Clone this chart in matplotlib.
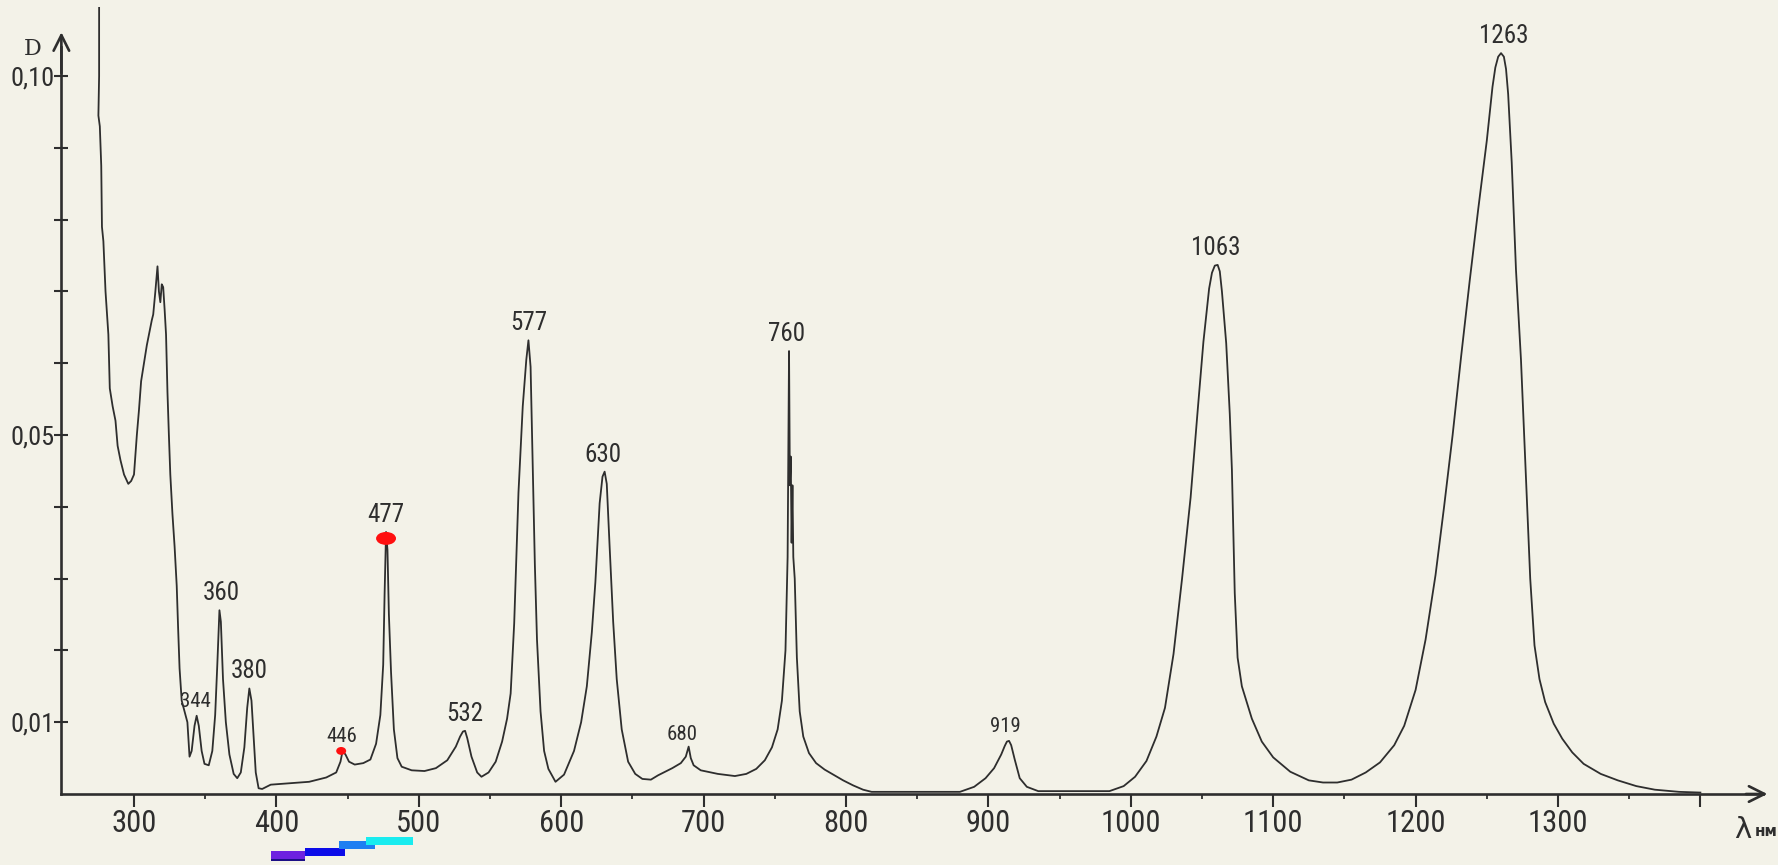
"""Absorption spectrum D(lambda), redrawn from a scanned hand-made chart."""
import numpy as np
import matplotlib
matplotlib.use("Agg")
import matplotlib.pyplot as plt
from matplotlib import font_manager as fm
from matplotlib.patches import Ellipse, Rectangle

# --- curve: wavelength (nm) and optical density D ---
wavelength_nm = [
    275.5, 275.5, 275.0, 276.0, 277.0, 277.5, 278.5, 280.0, 282.0, 283.0,
    285.0, 287.0, 288.5, 290.5, 293.0, 296.0, 298.0, 300.0, 302.0, 303.5,
    305.0, 307.0, 309.0, 311.0, 312.5, 313.5, 315.0, 316.5, 317.5, 318.5,
    319.5, 320.5, 321.5, 322.5, 323.5, 324.5, 325.5, 327.0, 328.5, 330.0,
    331.0, 332.0, 333.5, 335.5, 337.5, 339.0, 340.5, 342.5, 344.0, 345.5,
    347.5, 349.5, 352.5, 355.0, 357.0, 358.5, 360.0, 361.0, 362.5, 364.5,
    367.0, 370.0, 372.5, 375.0, 377.5, 379.5, 381.0, 382.5, 384.0, 385.5,
    387.5, 390.0, 396.0, 410.0, 423.0, 435.0, 442.0, 445.0, 446.5, 448.5,
    451.0, 455.0, 461.0, 466.0, 470.0, 473.0, 475.0, 476.0, 477.0, 478.0,
    479.0, 480.5, 482.5, 485.0, 488.0, 495.0, 504.0, 512.0, 520.0, 526.0,
    529.0, 531.0, 532.5, 534.0, 537.0, 541.0, 544.0, 549.0, 554.0, 558.5,
    562.0, 564.5, 567.0, 570.0, 573.0, 575.5, 577.0, 578.5, 580.0, 581.5,
    583.0, 585.5, 588.0, 591.0, 596.0, 602.0, 609.0, 614.0, 618.0, 621.5,
    624.0, 627.0, 629.0, 630.5, 632.0, 634.0, 636.5, 639.0, 642.5, 647.0,
    652.0, 657.0, 663.0, 668.0, 673.0, 678.0, 684.0, 687.5, 689.5, 691.0,
    693.0, 698.0, 710.0, 722.0, 730.0, 737.0, 743.0, 748.0, 752.0, 755.0,
    757.5, 759.0, 760.0, 760.6, 761.2, 761.8, 762.4, 763.0, 764.0, 765.5,
    767.5, 770.0, 774.0, 779.0, 785.0, 791.0, 798.0, 805.0, 812.0, 818.0,
    880.0, 890.0, 898.0, 904.0, 909.0, 911.5, 913.0, 914.5, 916.0, 918.5,
    922.0, 927.0, 935.0, 985.0, 995.0, 1003.0, 1011.0, 1018.0, 1024.0, 1030.0,
    1036.0, 1042.0, 1047.0, 1051.0, 1055.0, 1057.0, 1059.0, 1061.0, 1062.5, 1064.0,
    1067.0, 1069.5, 1071.0, 1073.0, 1075.0, 1078.0, 1085.0, 1092.0, 1100.0, 1112.0,
    1125.0, 1135.0, 1145.0, 1155.0, 1165.0, 1175.0, 1185.0, 1192.0, 1200.0, 1207.0,
    1214.0, 1220.0, 1226.0, 1232.0, 1238.0, 1244.0, 1250.0, 1254.0, 1256.0, 1258.0,
    1260.0, 1262.0, 1263.5, 1265.0, 1267.5, 1270.5, 1274.0, 1277.5, 1280.5, 1283.5,
    1287.0, 1291.0, 1297.0, 1303.0, 1310.0, 1318.0, 1330.0, 1342.0, 1355.0, 1368.0,
    1385.0, 1400.0,
]
density = [
    0.1095, 0.1000, 0.0945, 0.0930, 0.0875, 0.0790, 0.0770, 0.0700, 0.0640, 0.0565,
    0.0540, 0.0520, 0.0485, 0.0465, 0.0445, 0.0432, 0.0436, 0.0445, 0.0500, 0.0535,
    0.0575, 0.0600, 0.0625, 0.0645, 0.0660, 0.0668, 0.0700, 0.0735, 0.0700, 0.0685,
    0.0710, 0.0706, 0.0675, 0.0640, 0.0560, 0.0500, 0.0445, 0.0390, 0.0345, 0.0290,
    0.0230, 0.0175, 0.0130, 0.0115, 0.0100, 0.0052, 0.0060, 0.0095, 0.0109, 0.0095,
    0.0060, 0.0042, 0.0040, 0.0060, 0.0110, 0.0180, 0.0256, 0.0240, 0.0160, 0.0100,
    0.0055, 0.0028, 0.0022, 0.0030, 0.0065, 0.0120, 0.0147, 0.0130, 0.0080, 0.0030,
    0.0008, 0.0007, 0.0013, 0.0015, 0.0017, 0.0023, 0.0030, 0.0045, 0.0060, 0.0055,
    0.0045, 0.0041, 0.0043, 0.0048, 0.0070, 0.0110, 0.0180, 0.0280, 0.0365, 0.0340,
    0.0250, 0.0170, 0.0090, 0.0050, 0.0038, 0.0033, 0.0032, 0.0036, 0.0047, 0.0066,
    0.0080, 0.0087, 0.0088, 0.0078, 0.0052, 0.0030, 0.0024, 0.0030, 0.0045, 0.0073,
    0.0105, 0.0140, 0.0238, 0.0420, 0.0540, 0.0605, 0.0632, 0.0595, 0.0460, 0.0320,
    0.0215, 0.0115, 0.0060, 0.0035, 0.0017, 0.0027, 0.0060, 0.0100, 0.0150, 0.0225,
    0.0295, 0.0405, 0.0442, 0.0449, 0.0432, 0.0345, 0.0240, 0.0160, 0.0090, 0.0045,
    0.0028, 0.0021, 0.0020, 0.0026, 0.0031, 0.0036, 0.0043, 0.0052, 0.0066, 0.0050,
    0.0040, 0.0033, 0.0028, 0.0025, 0.0028, 0.0035, 0.0047, 0.0065, 0.0090, 0.0130,
    0.0200, 0.0330, 0.0617, 0.0430, 0.0470, 0.0350, 0.0430, 0.0330, 0.0300, 0.0190,
    0.0115, 0.0080, 0.0057, 0.0043, 0.0034, 0.0027, 0.0019, 0.0012, 0.0006, 0.0003,
    0.0003, 0.0010, 0.0022, 0.0036, 0.0055, 0.0067, 0.0073, 0.0074, 0.0068, 0.0048,
    0.0022, 0.0010, 0.0004, 0.0004, 0.0011, 0.0024, 0.0046, 0.0080, 0.0120, 0.0195,
    0.0300, 0.0413, 0.0535, 0.0630, 0.0704, 0.0726, 0.0736, 0.0737, 0.0728, 0.0700,
    0.0628, 0.0530, 0.0452, 0.0280, 0.0190, 0.0150, 0.0105, 0.0073, 0.0051, 0.0031,
    0.0019, 0.0016, 0.0016, 0.0020, 0.0030, 0.0044, 0.0068, 0.0095, 0.0145, 0.0215,
    0.0305, 0.0400, 0.0500, 0.0610, 0.0715, 0.0815, 0.0910, 0.0985, 0.1012, 0.1027,
    0.1032, 0.1027, 0.1010, 0.0975, 0.0880, 0.0730, 0.0605, 0.0440, 0.0300, 0.0207,
    0.0160, 0.0128, 0.0098, 0.0077, 0.0058, 0.0042, 0.0028, 0.0019, 0.0011, 0.0006,
    0.0003, 0.0002,
]

# peak annotations (text as written, wavelength where the text sits)
peak_text = ["344", "360", "380", "446", "477", "532", "577", "630", "680", "760",
             "919", "1063", "1263"]
peak_nm = [343, 361, 381, 446, 477, 532, 577, 629, 685, 758, 912, 1060, 1262]

xtick_nm = [300, 400, 500, 600, 700, 800, 900, 1000, 1100, 1200, 1300, 1400]
xtick_text = ["300", "400", "500", "600", "700", "800", "900", "1000", "1100",
              "1200", "1300", ""]
ytick_d = [0.01, 0.02, 0.03, 0.04, 0.05, 0.06, 0.07, 0.08, 0.09, 0.10]
ytick_text = ["0,01", "", "", "", "0,05", "", "", "", "", "0,10"]

# coloured strip drawn under the 400-500 nm range
band_start = [396, 396, 420, 444, 463]
band_end = [420, 420, 448, 469, 496]
band_colors = ["#1c0f86", "#6d22e0", "#0c0ce8", "#1f7ff2", "#19ecef"]

# red dots marked on two peaks
dot_nm = [445.5, 477.0]
dot_d = [0.0060, 0.0356]

PAPER = "#f3f2e8"
INK = "#2e2e2e"


def narrow_font(size):
    """A condensed face if one is installed, else Liberation Sans."""
    pref = ["Liberation Sans Narrow", "Roboto Condensed", "DejaVu Sans",
            "Noto Sans", "Open Sans"]
    found = {}
    for f in fm.fontManager.ttflist:
        if f.style == "normal" and f.weight in (400, "normal", "regular") and \
                str(f.stretch) in ("condensed", "semi-condensed", "extra-condensed"):
            found.setdefault(f.name, f.fname)
    for name in pref:
        if name in found:
            return fm.FontProperties(fname=found[name], size=size)
    if found:
        return fm.FontProperties(fname=sorted(found.values())[0], size=size)
    return fm.FontProperties(family="Liberation Sans", size=size)


fig = plt.figure(figsize=(17.78, 8.65), dpi=100, facecolor=PAPER)
ax = fig.add_axes([0, 0, 1, 1], facecolor=PAPER)
ax.set_xlim(205.9, 1454.5)
ax.set_ylim(-0.00989, 0.1106)

ax.plot(wavelength_nm, density, color=INK, lw=1.3, solid_joinstyle="round")

# axes drawn as two arrows meeting at (249 nm, 0)
y_axis_x = 249
for s in ("top", "right"):
    ax.spines[s].set_visible(False)
ax.spines["left"].set_position(("data", y_axis_x))
ax.spines["bottom"].set_position(("data", 0))
ax.spines["left"].set_bounds(0, 0.104)
ax.spines["bottom"].set_bounds(y_axis_x, 1444)
for s in ("left", "bottom"):
    ax.spines[s].set_color(INK)
    ax.spines[s].set_linewidth(1.9)
ax.annotate("", xy=(1449, 0), xytext=(1430, 0),
            arrowprops=dict(arrowstyle="->", color=INK, lw=1.9, mutation_scale=28))
ax.annotate("", xy=(y_axis_x, 0.1065), xytext=(y_axis_x, 0.100),
            arrowprops=dict(arrowstyle="->", color=INK, lw=1.9, mutation_scale=28))

ax.set_xticks(xtick_nm)
ax.set_xticklabels(xtick_text, fontproperties=narrow_font(22), color=INK)
ax.set_xticks(np.arange(350, 1400, 100), minor=True)
ax.tick_params(axis="x", which="major", direction="out", length=9, width=1.5,
               color=INK, pad=2)
ax.tick_params(axis="x", which="minor", direction="out", length=3.5, width=1.3,
               color=INK)
ax.set_yticks(ytick_d)
ax.set_yticklabels(ytick_text, fontproperties=narrow_font(19), color=INK)
ax.tick_params(axis="y", which="major", direction="inout", length=10, width=1.5,
               color=INK, pad=0)

ax.text(229, 0.1038, "D", fontsize=16, family="DejaVu Serif", color=INK,
        ha="center", va="center")
ax.text(1430, -0.0050, "λ", fontsize=21, color=INK, ha="center", va="center")
ax.text(1446, -0.0052, "нм", fontsize=11, fontweight="bold", color=INK,
        ha="center", va="center")

# peak labels, sitting just above the curve maximum near each wavelength
wl = np.array(wavelength_nm)
dd = np.array(density)
small = {"344", "446", "680", "919"}
for txt, nm in zip(peak_text, peak_nm):
    near = np.abs(wl - nm) <= 4
    top = dd[near].max()
    lift = 0.0018 if txt == "680" else 0.0007
    ax.text(nm, top + lift, txt, ha="center", va="bottom", color=INK,
            fontproperties=narrow_font(15 if txt in small else 18))

band_y = [-0.0094, -0.0090, -0.0086, -0.0077, -0.0071]
band_h = [0.0009, 0.0010, 0.0011, 0.0011, 0.0011]
for s, e, c, y0, h in zip(band_start, band_end, band_colors, band_y, band_h):
    ax.add_patch(Rectangle((s, y0), e - s, h, color=c, lw=0))

for nm, d in zip(dot_nm, dot_d):
    big = d > 0.02
    ax.add_patch(Ellipse((nm, d), 14 if big else 7, 0.0018 if big else 0.0011,
                         color="#ff1010", lw=0, zorder=5))

fig.savefig("out.png", dpi=100, facecolor=PAPER)
